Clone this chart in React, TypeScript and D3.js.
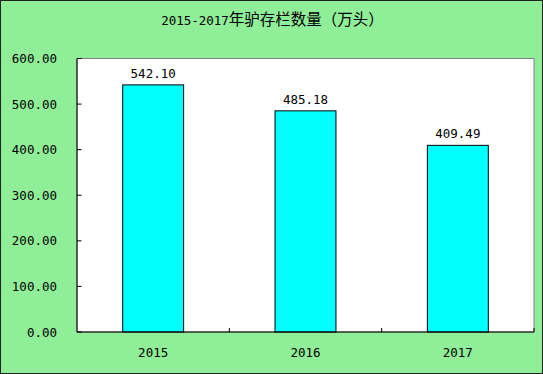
import React from "react";
import * as d3 from "d3";

const categories = ["2015", "2016", "2017"];
const values = [542.1, 485.18, 409.49];
const yTicks = [0, 100, 200, 300, 400, 500, 600];
const titleNum = "2015-2017";
const titleCjk = "年驴存栏数量（万头）";

const W = 543;
const H = 374;
const plot = { left: 77, right: 534, top: 58.5, bottom: 332 };
const mono = "'DejaVu Sans Mono', 'Liberation Mono', monospace";
const cjk = "'Noto Sans CJK SC', sans-serif";

export default function App() {
  const x = d3
    .scaleBand<string>()
    .domain(categories)
    .range([plot.left, plot.right])
    .paddingInner(0.6)
    .paddingOuter(0.3);
  const y = d3.scaleLinear().domain([0, 600]).range([plot.bottom, plot.top]);
  const step = (plot.right - plot.left) / categories.length;

  return (
    <svg
      width={W}
      height={H}
      style={{ position: "absolute", left: 0, top: 0 }}
    >
      <rect x={0.5} y={0.5} width={W - 1} height={H - 1} fill="#90EE98" stroke="#222" />
      <text x={272.5} y={24.5} textAnchor="middle" fill="#000">
        <tspan fontFamily={mono} fontSize={12.5}>{titleNum}</tspan>
        <tspan fontFamily={cjk} fontSize={15.5}>{titleCjk}</tspan>
      </text>
      <rect
        x={plot.left}
        y={plot.top}
        width={plot.right - plot.left}
        height={plot.bottom - plot.top}
        fill="#fff"
        stroke="#808080"
      />
      {categories.map((c, i) => (
        <g key={c}>
          <rect
            x={x(c)!}
            y={y(values[i])}
            width={x.bandwidth()}
            height={plot.bottom - y(values[i])}
            fill="#00FFFF"
            stroke="#000"
          />
          <text
            x={x(c)! + x.bandwidth() / 2}
            y={y(values[i]) - 7}
            textAnchor="middle"
            fontFamily={mono}
            fontSize={12.5}
            fill="#000"
          >
            {values[i].toFixed(2)}
          </text>
          <text
            x={x(c)! + x.bandwidth() / 2}
            y={357}
            textAnchor="middle"
            fontFamily={mono}
            fontSize={12.5}
            fill="#000"
          >
            {c}
          </text>
        </g>
      ))}
      {categories.map((c, i) => (
        <line
          key={"xt" + c}
          x1={plot.left + step * (i + 1)}
          x2={plot.left + step * (i + 1)}
          y1={plot.bottom}
          y2={plot.bottom - 4}
          stroke="#000"
        />
      ))}
      {yTicks.map((t) => (
        <g key={t}>
          <line x1={plot.left} x2={plot.left + 4.5} y1={y(t)} y2={y(t)} stroke="#000" />
          <text
            x={57}
            y={y(t) + 4.5}
            textAnchor="end"
            fontFamily={mono}
            fontSize={12.5}
            fill="#000"
          >
            {t.toFixed(2)}
          </text>
        </g>
      ))}
      <line x1={plot.left} x2={plot.left} y1={plot.top} y2={plot.bottom} stroke="#000" />
      <line x1={plot.left} x2={plot.right} y1={plot.bottom} y2={plot.bottom} stroke="#000" />
    </svg>
  );
}
